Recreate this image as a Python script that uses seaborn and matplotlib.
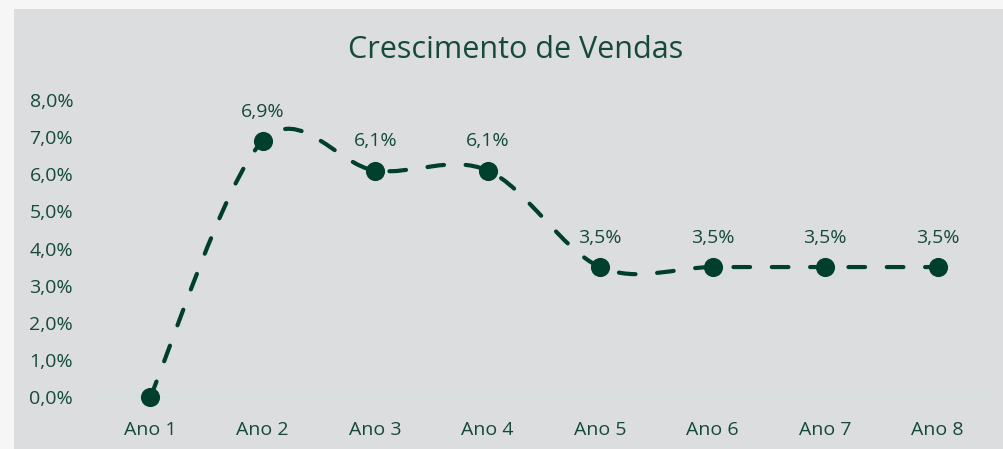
import numpy as np
import pandas as pd
import matplotlib.pyplot as plt
import seaborn as sns
from matplotlib.path import Path
from matplotlib.patches import PathPatch, Rectangle

anos = ['Ano 1', 'Ano 2', 'Ano 3', 'Ano 4', 'Ano 5', 'Ano 6', 'Ano 7', 'Ano 8']
crescimento = [0.0, 0.069, 0.061, 0.061, 0.035, 0.035, 0.035, 0.035]
rotulos = ['', '6,9%', '6,1%', '6,1%', '3,5%', '3,5%', '3,5%', '3,5%']
yticks = [0.0, 0.01, 0.02, 0.03, 0.04, 0.05, 0.06, 0.07, 0.08]

df = pd.DataFrame({'ano': anos, 'valor': crescimento})

verde = '#013f2d'
texto = '#154a37'

sns.set_theme(style='white')
plt.rcParams['font.family'] = ['Open Sans', 'DejaVu Sans']

fig = plt.figure(figsize=(10.04, 4.49), dpi=100, facecolor='#f6f6f6')
fig.patches.append(Rectangle((14 / 1004, 0), 1, 1 - 9 / 449, transform=fig.transFigure,
                             facecolor='#dcdddf', edgecolor='none', zorder=-5))
ax = fig.add_axes([94 / 1004, 52 / 449, 900 / 1004, 297 / 449])
ax.set_facecolor('none')
ax.set_zorder(2)

# smoothed line (Excel style), Catmull-Rom -> cubic bezier in data coords
xs = np.arange(len(crescimento))
pts = np.column_stack([xs, crescimento])
verts = [pts[0]]
codes = [Path.MOVETO]
for i in range(len(pts) - 1):
    p0 = pts[max(i - 1, 0)]
    p1 = pts[i]
    p2 = pts[i + 1]
    p3 = pts[min(i + 2, len(pts) - 1)]
    verts += [p1 + (p2 - p0) / 6, p2 - (p3 - p1) / 6, p2]
    codes += [Path.CURVE4] * 3
patch = PathPatch(Path(verts, codes), fill=False, edgecolor=verde, lw=3,
                  linestyle=(0, (4, 5.2)), capstyle='round', joinstyle='round', zorder=2)
ax.add_patch(patch)

sns.scatterplot(data=df, x='ano', y='valor', ax=ax, s=190, color=verde,
                edgecolor=verde, linewidth=0, zorder=3, legend=False, clip_on=False)

for i, lab in enumerate(rotulos):
    if lab:
        ax.annotate(lab, (i, crescimento[i]), xytext=(0, 21), textcoords='offset points',
                    ha='center', va='center', fontsize=14, color=texto)

ax.set_xlim(-0.5, len(anos) - 0.5)
ax.set_ylim(0, 0.08)
ax.set_yticks(yticks)
ax.set_yticklabels([f'{v * 100:.1f}%'.replace('.', ',') for v in yticks])
ax.set_xlabel('')
ax.set_ylabel('')
ax.tick_params(axis='both', length=0, labelsize=14, labelcolor=texto)
ax.tick_params(axis='y', pad=15)
ax.tick_params(axis='x', pad=17)
for s in ['top', 'right', 'left']:
    ax.spines[s].set_visible(False)
ax.spines['bottom'].set_color('#cde4e2')
ax.spines['bottom'].set_linewidth(1.3)
ax.spines['bottom'].set_zorder(1)

fig.text(516 / 1004, 1 - 50 / 449, 'Crescimento de Vendas', ha='center', va='center',
         fontsize=22, color=texto)

fig.savefig('out.png', dpi=100, facecolor=fig.get_facecolor())
